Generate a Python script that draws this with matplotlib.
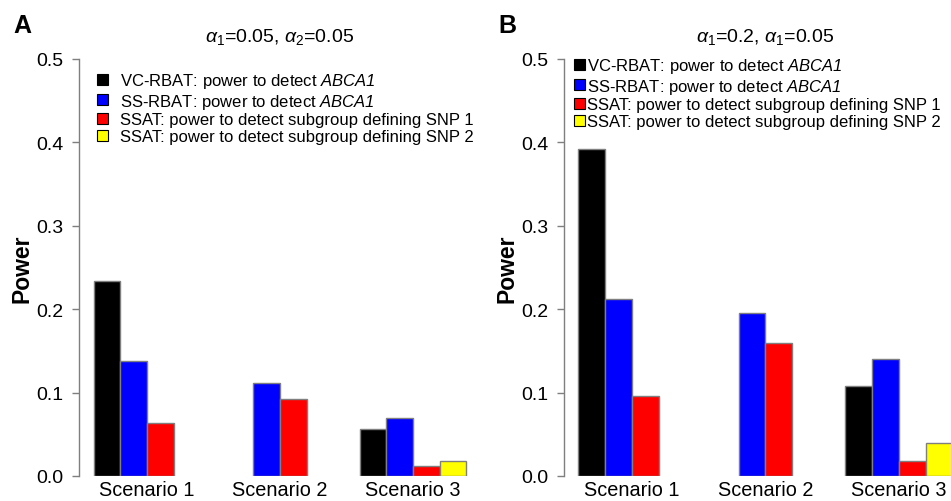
import matplotlib
matplotlib.use('Agg')
import matplotlib.pyplot as plt
from matplotlib.patches import Patch
import numpy as np

plt.rcParams['font.family'] = ['Liberation Sans', 'DejaVu Sans']
plt.rcParams['mathtext.fontset'] = 'custom'
plt.rcParams['mathtext.rm'] = 'Liberation Sans'
plt.rcParams['mathtext.it'] = 'Liberation Sans:italic'
plt.rcParams['mathtext.bf'] = 'Liberation Sans:bold'
plt.rcParams['mathtext.sf'] = 'Liberation Sans:italic'

# ---------------- data ----------------
scenarios = ['Scenario 1', 'Scenario 2', 'Scenario 3']
series_labels = [
    'VC-RBAT: power to detect $\\mathsf{ABCA1}$',
    'SS-RBAT: power to detect $\\mathsf{ABCA1}$',
    'SSAT: power to detect subgroup defining SNP 1',
    'SSAT: power to detect subgroup defining SNP 2',
]
series_colors = ['#000000', '#0000ff', '#ff0000', '#ffff00']

# Panel A: alpha1=0.05, alpha2=0.05
vc_rbat_a = [0.234, 0.0, 0.056]
ss_rbat_a = [0.138, 0.112, 0.070]
ssat1_a = [0.064, 0.092, 0.012]
ssat2_a = [0.0, 0.0, 0.018]

# Panel B: alpha1=0.2, alpha1=0.05
vc_rbat_b = [0.392, 0.0, 0.108]
ss_rbat_b = [0.212, 0.196, 0.140]
ssat1_b = [0.096, 0.160, 0.018]
ssat2_b = [0.0, 0.0, 0.040]

yticks = [0.0, 0.1, 0.2, 0.3, 0.4, 0.5]
ytick_labels = ['0.0', '0.1', '0.2', '0.3', '0.4', '0.5']

title_a = '$\\alpha_1$=0.05, $\\alpha_2$=0.05'
title_b = '$\\alpha_1$=0.2, $\\alpha_1$=0.05'

# ---------------- figure ----------------
W, H = 951, 502
fig = plt.figure(figsize=(W / 100, H / 100), dpi=100)

EDGE = '#7f7f7f'


def draw_panel(ax, series, title):
    n_groups = len(scenarios)
    n_series = len(series)
    group_step = n_series + 1
    for s, (vals, col) in enumerate(zip(series, series_colors)):
        x = np.arange(n_groups) * group_step + 1 + s
        vals = np.asarray(vals)
        lws = np.where(vals > 0, 1.0, 0.0)
        ax.bar(x, vals, width=1.0, align='edge', color=col,
               edgecolor=EDGE, linewidth=lws)
    ax.set_xlim(0.44, n_groups * group_step + 0.56)
    ax.set_ylim(0, 0.5)
    for sp in ['top', 'right', 'bottom']:
        ax.spines[sp].set_visible(False)
    ax.spines['left'].set_color(EDGE)
    ax.spines['left'].set_linewidth(1.0)
    ax.spines['left'].set_bounds(0, 0.5)
    ax.set_yticks(yticks)
    ax.set_yticklabels(ytick_labels)
    ax.tick_params(axis='y', colors=EDGE, labelcolor='black', length=5,
                   width=1.0, pad=6, labelsize=14)
    centers = np.arange(n_groups) * group_step + 1 + n_series / 2
    ax.set_xticks(centers)
    ax.set_xticklabels(scenarios)
    ax.tick_params(axis='x', length=0, pad=3, labelsize=14.3)
    ax.set_ylabel('Power', fontsize=16.5, fontweight='bold')
    ax.set_title(title, fontsize=14, pad=13)


# Panel A
ax_a = fig.add_axes([79 / W, 25 / H, 402 / W, 417 / H])
draw_panel(ax_a, [vc_rbat_a, ss_rbat_a, ssat1_a, ssat2_a], title_a)
ax_a.yaxis.set_label_coords(-0.113, 0.5)

# Panel B
ax_b = fig.add_axes([563.5 / W, 25 / H, 403.7 / W, 417 / H])
draw_panel(ax_b, [vc_rbat_b, ss_rbat_b, ssat1_b, ssat2_b], title_b)
ax_b.yaxis.set_label_coords(-0.112, 0.5)

handles = [Patch(facecolor=c, edgecolor='black', linewidth=0.8) for c in series_colors]

fig.legend(handles, series_labels, loc='upper left',
           bbox_to_anchor=(97 / W, 1 - 72 / H), bbox_transform=fig.transFigure,
           frameon=False, fontsize=12, borderpad=0, borderaxespad=0,
           handlelength=0.66, handleheight=0.66, handletextpad=0.72,
           labelspacing=0.1)

fig.legend(handles, series_labels, loc='upper left',
           bbox_to_anchor=(574 / W, 1 - 57 / H), bbox_transform=fig.transFigure,
           frameon=False, fontsize=12, borderpad=0, borderaxespad=0,
           handlelength=0.66, handleheight=0.66, handletextpad=0.12,
           labelspacing=0.1)

fig.text(13 / W, 1 - 33 / H, 'A', fontsize=18, fontweight='bold', va='baseline')
fig.text(498 / W, 1 - 33 / H, 'B', fontsize=18, fontweight='bold', va='baseline')

fig.savefig('out.png', dpi=100)
